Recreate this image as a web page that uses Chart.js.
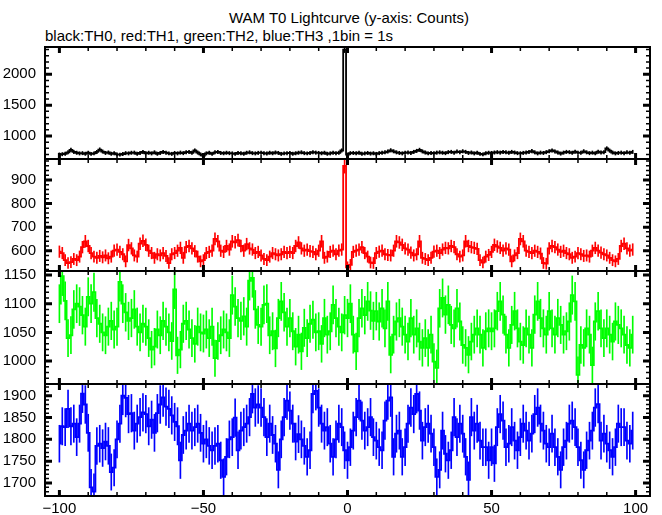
<!DOCTYPE html>
<html>
<head>
<meta charset="utf-8">
<script src="https://cdn.jsdelivr.net/npm/chart.js@4.4.1/dist/chart.umd.min.js"></script>
<style>
  body { margin: 0; background: #fff; width: 662px; height: 515px; position: relative; overflow: hidden;
         font-family: "Liberation Sans", Arial, sans-serif; color: #000; }
  canvas { position: absolute; left: 0; }
  #title { position: absolute; top: 9px; left: 0; width: 698px; text-align: center; font-size: 15px; }
  #subtitle { position: absolute; top: 27px; left: 45px; font-size: 15px; }
</style>
</head>
<body>
<div id="title">WAM T0 Lightcurve (y-axis: Counts)</div>
<div id="subtitle">black:TH0, red:TH1, green:TH2, blue:TH3 ,1bin = 1s</div>
<script>
// 1 s bins from -100 to 99
const bins = [];
for (let t = -100; t < 100; t++) bins.push(t);

// TH0 (black)
const th0 = [
  700, 705, 712, 735, 775, 742, 728, 718, 722, 712,
  728, 710, 718, 742, 780, 748, 725, 732, 712, 720,
  702, 698, 708, 722, 718, 728, 730, 712, 725, 742,
  720, 728, 718, 735, 712, 725, 742, 730, 718, 710,
  725, 718, 730, 722, 738, 742, 728, 765, 732, 702,
  682, 718, 728, 710, 735, 742, 725, 720, 728, 722,
  718, 710, 725, 720, 712, 728, 735, 722, 718, 726,
  730, 722, 715, 728, 720, 732, 725, 710, 718, 722,
  725, 712, 720, 728, 735, 722, 718, 726, 738, 730,
  725, 720, 728, 712, 718, 730, 722, 728, 765, 2400,
  700, 722, 725, 720, 728, 712, 718, 725, 715, 720,
  710, 722, 728, 735, 748, 768, 752, 735, 725, 718,
  728, 732, 725, 742, 758, 775, 750, 732, 718, 725,
  720, 730, 735, 728, 722, 738, 742, 730, 748, 738,
  752, 742, 725, 732, 718, 728, 710, 702, 720, 728,
  725, 732, 738, 730, 742, 735, 728, 742, 732, 722,
  720, 726, 732, 742, 755, 735, 718, 730, 725, 738,
  752, 765, 750, 732, 715, 730, 742, 738, 728, 745,
  730, 728, 752, 735, 722, 730, 720, 745, 732, 738,
  798, 762, 732, 718, 725, 730, 722, 735, 728, 742
];

// TH1 (red)
const th1 = [
  596, 590, 560, 548, 552, 565, 560, 575, 615, 640,
  620, 590, 575, 570, 578, 572, 580, 568, 575, 600,
  605, 595, 585, 555, 624, 610, 580, 575, 630, 642,
  625, 600, 590, 570, 585, 580, 590, 578, 548, 585,
  590, 600, 612, 570, 615, 620, 610, 598, 575, 555,
  560, 590, 595, 600, 650, 640, 600, 595, 620, 605,
  640, 636, 645, 620, 600, 628, 610, 605, 590, 595,
  580, 565, 560, 575, 590, 585, 580, 585, 595, 590,
  595, 590, 620, 635, 610, 600, 605, 598, 595, 585,
  600, 640, 570, 575, 595, 600, 585, 600, 605, 960,
  530, 540, 595, 600, 605, 615, 590, 575, 550, 548,
  590, 596, 600, 585, 582, 580, 600, 640, 635, 625,
  610, 605, 592, 580, 585, 640, 570, 565, 560, 570,
  596, 600, 590, 605, 612, 610, 620, 615, 585, 575,
  580, 640, 620, 615, 612, 608, 560, 550, 575, 582,
  595, 625, 618, 612, 600, 610, 605, 555, 580, 590,
  650, 640, 600, 595, 590, 600, 595, 588, 548, 545,
  610, 620, 615, 605, 595, 600, 590, 585, 570, 575,
  590, 585, 578, 580, 575, 600, 612, 600, 592, 585,
  580, 570, 560, 555, 565, 620, 630, 610, 600, 605
];

// TH2 (green)
const th2 = [
  1100, 1148, 1105, 1040, 1045, 1090, 1100, 1095, 1080, 1060,
  1112, 1100, 1120, 1075, 1065, 1050, 1045, 1060, 1070, 1055,
  1060, 1138, 1100, 1085, 1070, 1075, 1090, 1060, 1050, 1065,
  1060, 1040, 1020, 1025, 1055, 1045, 1070, 1060, 1050, 1035,
  1125, 1010, 1020, 1065, 1070, 1055, 1040, 1030, 1060, 1050,
  1048, 1055, 1040, 1060, 1005, 1035, 1045, 1055, 1050, 1040,
  1115, 1095, 1075, 1070, 1078, 1060, 1140, 1145, 1090, 1063,
  1060, 1098, 1100, 1045, 1052, 1022, 1075, 1104, 1085, 1060,
  1075, 1052, 1025, 1046, 1017, 1058, 1040, 1065, 1072, 1050,
  1052, 1030, 1075, 1046, 1052, 1098, 1075, 1060, 1050, 1080,
  1075, 1100, 1046, 1017, 1075, 1092, 1080, 1104, 1088, 1070,
  1087, 1069, 1092, 1057, 1104, 1011, 1046, 1069, 1075, 1060,
  1046, 1034, 1075, 1046, 1057, 1034, 1023, 1040, 1023, 1046,
  999, 988, 1092, 1110, 1081, 1098, 1063, 1057, 1092, 1069,
  1028, 1023, 1011, 1034, 1046, 1057, 1046, 1023, 1052, 1057,
  1052, 1057, 1087, 1104, 1081, 1046, 1023, 1063, 1087, 1057,
  1034, 1028, 1057, 1046, 1023, 1081, 1104, 1075, 1057, 1046,
  1087, 1057, 1046, 1075, 1063, 1046, 1052, 1069, 1115, 1104,
  976, 1028, 1023, 1057, 1046, 993, 1069, 1087, 1057, 1040,
  1057, 1046, 1034, 1069, 1063, 1057, 1046, 1028, 1023, 1046
];

// TH3 (blue)
const th3 = [
  1790, 1830, 1828, 1870, 1830, 1836, 1805, 1836, 1905, 1880,
  1815, 1690, 1680, 1785, 1790, 1780, 1795, 1785, 1725, 1735,
  1800, 1836, 1900, 1895, 1858, 1860, 1820, 1836, 1851, 1862,
  1858, 1830, 1845, 1815, 1860, 1880, 1896, 1875, 1870, 1855,
  1840, 1830, 1752, 1810, 1820, 1836, 1820, 1828, 1836, 1815,
  1790, 1800, 1785, 1775, 1785, 1790, 1752, 1714, 1760, 1800,
  1805, 1850, 1775, 1820, 1828, 1836, 1851, 1904, 1873, 1880,
  1873, 1851, 1805, 1836, 1810, 1790, 1730, 1800, 1851, 1889,
  1866, 1836, 1795, 1812, 1800, 1785, 1760, 1775, 1904, 1911,
  1873, 1836, 1820, 1828, 1790, 1760, 1800, 1836, 1828, 1775,
  1752, 1782, 1820, 1851, 1889, 1843, 1820, 1828, 1851, 1805,
  1797, 1782, 1775, 1843, 1889, 1896, 1760, 1813, 1820, 1760,
  1782, 1836, 1873, 1858, 1904, 1866, 1797, 1828, 1836, 1813,
  1782, 1714, 1730, 1820, 1767, 1752, 1775, 1851, 1805, 1836,
  1813, 1760, 1707, 1851, 1820, 1836, 1797, 1782, 1782, 1752,
  1782, 1745, 1828, 1858, 1843, 1782, 1790, 1828, 1797, 1775,
  1805, 1836, 1820, 1797, 1813, 1858, 1873, 1836, 1820, 1790,
  1782, 1813, 1782, 1760, 1730, 1782, 1797, 1836, 1843, 1828,
  1782, 1752, 1730, 1775, 1797, 1820, 1873, 1881, 1797, 1813,
  1790, 1775, 1760, 1782, 1836, 1828, 1828, 1797, 1790, 1820
];

// tick labels
const xTicks = [-100, -50, 0, 50, 100];
const yTicksTH0 = [1000, 1500, 2000];
const yTicksTH1 = [600, 700, 800, 900];
const yTicksTH2 = [1000, 1050, 1100, 1150];
const yTicksTH3 = [1700, 1750, 1800, 1850, 1900];

Chart.defaults.font.family = '"Liberation Sans", Arial, sans-serif';
Chart.defaults.color = '#000';

// frame + inward ticks on all four sides, like the original plot
const frameTicks = {
  id: 'frameTicks',
  afterDatasetsDraw(chart, args, opts) {
    const { ctx, chartArea: a } = chart;
    const xs = chart.scales.x, ys = chart.scales.y;
    ctx.save();
    ctx.strokeStyle = '#000';
    ctx.lineCap = 'butt';
    ctx.lineWidth = 2;
    ctx.strokeRect(a.left, a.top, a.right - a.left, a.bottom - a.top);
    for (let v = -100; v <= 100; v += 10) {
      const px = xs.getPixelForValue(v);
      const major = v % 50 === 0;
      const len = major ? 6 : 4;
      ctx.lineWidth = major ? 3 : 1.5;
      ctx.beginPath();
      ctx.moveTo(px, a.top); ctx.lineTo(px, a.top + len);
      ctx.moveTo(px, a.bottom); ctx.lineTo(px, a.bottom - len);
      ctx.stroke();
    }
    const start = Math.ceil(ys.min / opts.minor) * opts.minor;
    for (let v = start; v <= ys.max; v += opts.minor) {
      const py = ys.getPixelForValue(v);
      const major = v % opts.major === 0;
      const len = major ? 7 : 4;
      ctx.lineWidth = major ? 3 : 1.5;
      ctx.beginPath();
      ctx.moveTo(a.left, py); ctx.lineTo(a.left + len, py);
      ctx.moveTo(a.right, py); ctx.lineTo(a.right - len, py);
      ctx.stroke();
    }
    ctx.restore();
  }
};

function makePanel(values, color, yMin, yMax, yTicks, minor, major, plotTop, plotBottom, last) {
  const canvas = document.createElement('canvas');
  const pad = 22;
  const height = last ? (515 - plotTop + pad) : (plotBottom - plotTop + 2 * pad);
  canvas.width = 662;
  canvas.height = height;
  canvas.style.top = (plotTop - pad) + 'px';
  document.body.appendChild(canvas);

  const line = bins.map((t, i) => ({ x: t, y: values[i] }));
  // error bars: +/- sqrt(counts)
  const errs = bins.map((t, i) => {
    const e = Math.sqrt(values[i]);
    return { x: t, y: [values[i] - e, values[i] + e] };
  });

  return new Chart(canvas.getContext('2d'), {
    type: 'line',
    data: {
      datasets: [
        {
          type: 'bar',
          data: errs,
          backgroundColor: color,
          barThickness: 1,
          borderWidth: 0
        },
        {
          type: 'line',
          data: line,
          borderColor: color,
          borderWidth: 1.8,
          stepped: 'middle',
          pointRadius: 0,
          fill: false
        }
      ]
    },
    options: {
      responsive: false,
      animation: false,
      devicePixelRatio: 1,
      layout: { padding: { top: pad, bottom: last ? 0 : pad, left: 0, right: 12 } },
      plugins: {
        legend: { display: false },
        tooltip: { enabled: false },
        frameTicks: { minor: minor, major: major }
      },
      scales: {
        x: {
          type: 'linear',
          min: -105,
          max: 105,
          offset: false,
          display: last,
          grid: { display: false, drawTicks: false },
          border: { display: false },
          afterBuildTicks: axis => { axis.ticks = xTicks.map(v => ({ value: v })); },
          afterFit: axis => { if (last) axis.height = 515 - plotBottom; },
          ticks: {
            padding: 4,
            font: { size: 15 },
            maxRotation: 0,
            callback: v => String(v).replace('-', '\u2212')
          }
        },
        y: {
          min: yMin,
          max: yMax,
          grid: { display: false, drawTicks: false },
          border: { display: false },
          afterBuildTicks: axis => { axis.ticks = yTicks.map(v => ({ value: v })); },
          afterFit: axis => { axis.width = 45; },
          ticks: { padding: 9, font: { size: 15 }, callback: v => String(v) }
        }
      }
    },
    plugins: [frameTicks]
  });
}

makePanel(th0, '#000000', 627, 2442, yTicksTH0, 100, 500, 47, 159, false);
makePanel(th1, '#ff0000', 514, 989, yTicksTH1, 20, 100, 159, 271, false);
makePanel(th2, '#00ff00', 960, 1157, yTicksTH2, 10, 50, 271, 384, false);
makePanel(th3, '#0000ff', 1670, 1927, yTicksTH3, 10, 50, 384, 496, true);
</script>
</body>
</html>
